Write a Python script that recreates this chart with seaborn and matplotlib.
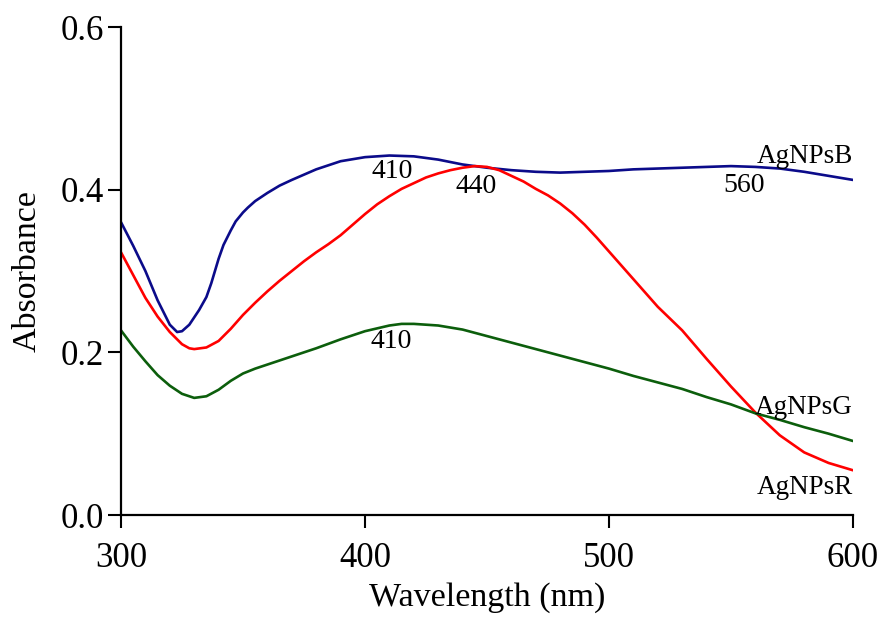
import matplotlib
matplotlib.use("Agg")
import matplotlib.pyplot as plt
import seaborn as sns
import pandas as pd

# UV-Vis absorption spectra of silver nanoparticles (AgNPs)
wl_b = [300, 305, 310, 315, 320, 323, 325, 328, 332, 335, 337, 340, 342, 345,
        347, 350, 352, 355, 360, 365, 370, 380, 390, 400, 410, 420, 430, 440,
        450, 460, 470, 480, 490, 500, 510, 520, 530, 540, 550, 560, 570, 580,
        590, 600]
abs_b = [0.360, 0.331, 0.300, 0.264, 0.234, 0.225, 0.226, 0.234, 0.252, 0.268,
         0.285, 0.315, 0.332, 0.350, 0.361, 0.372, 0.378, 0.386, 0.396, 0.405,
         0.412, 0.425, 0.435, 0.440, 0.442, 0.441, 0.437, 0.431, 0.427, 0.424,
         0.422, 0.421, 0.422, 0.423, 0.425, 0.426, 0.427, 0.428, 0.429, 0.428,
         0.426, 0.422, 0.417, 0.412]

wl_r = [300, 305, 310, 315, 320, 325, 328, 330, 335, 340, 345, 350, 355, 360,
        365, 370, 375, 380, 385, 390, 395, 400, 405, 410, 415, 420, 425, 430,
        435, 440, 445, 450, 455, 460, 465, 470, 475, 480, 485, 490, 495, 500,
        505, 510, 520, 530, 540, 550, 560, 570, 580, 590, 600]
abs_r = [0.323, 0.295, 0.267, 0.244, 0.225, 0.210, 0.205, 0.204, 0.206, 0.214,
         0.229, 0.246, 0.261, 0.275, 0.288, 0.300, 0.312, 0.323, 0.333, 0.344,
         0.357, 0.370, 0.382, 0.392, 0.401, 0.408, 0.415, 0.420, 0.424, 0.427,
         0.429, 0.428, 0.424, 0.417, 0.410, 0.401, 0.393, 0.383, 0.371, 0.357,
         0.341, 0.324, 0.307, 0.290, 0.256, 0.227, 0.192, 0.158, 0.126, 0.098,
         0.077, 0.064, 0.055]

wl_g = [300, 305, 310, 315, 320, 325, 330, 335, 340, 345, 350, 355, 360, 370,
        380, 390, 400, 410, 415, 420, 430, 440, 450, 460, 470, 480, 490, 500,
        510, 520, 530, 540, 550, 560, 570, 580, 590, 600]
abs_g = [0.227, 0.207, 0.189, 0.172, 0.159, 0.149, 0.144, 0.146, 0.154, 0.165,
         0.174, 0.180, 0.185, 0.195, 0.205, 0.216, 0.226, 0.233, 0.235, 0.235,
         0.233, 0.228, 0.220, 0.212, 0.204, 0.196, 0.188, 0.180, 0.171, 0.163,
         0.155, 0.145, 0.136, 0.125, 0.117, 0.108, 0.100, 0.091]

series_names = ["AgNPsB", "AgNPsR", "AgNPsG"]
series_colors = {"AgNPsB": "#0b0b8a", "AgNPsR": "#ff0000", "AgNPsG": "#0c5e0c"}

# peak-wavelength annotations: (text, x, y)
peak_labels = [("410", 411.0, 0.414), ("440", 445.7, 0.396),
               ("560", 555.2, 0.397), ("410", 410.8, 0.205)]
# sample names at the right end of each curve: (text, y)
name_labels = [("AgNPsB", 0.433), ("AgNPsG", 0.124), ("AgNPsR", 0.026)]

df = pd.concat([
    pd.DataFrame({"Wavelength": wl_b, "Absorbance": abs_b, "Sample": "AgNPsB"}),
    pd.DataFrame({"Wavelength": wl_r, "Absorbance": abs_r, "Sample": "AgNPsR"}),
    pd.DataFrame({"Wavelength": wl_g, "Absorbance": abs_g, "Sample": "AgNPsG"}),
], ignore_index=True)

sns.set_theme(style="ticks")
plt.rcParams["font.family"] = ["Liberation Serif", "DejaVu Serif"]

fig = plt.figure(figsize=(8.8, 6.17), dpi=100)
ax = fig.add_axes([0.1375, 0.1653, 0.9693 - 0.1375, 0.9562 - 0.1653])

sns.lineplot(data=df, x="Wavelength", y="Absorbance", hue="Sample",
             hue_order=series_names, palette=series_colors, sort=False,
             estimator=None, linewidth=1.9, legend=False, ax=ax)

ax.set_xlim(300, 600)
ax.set_ylim(0, 0.6)
ax.set_xticks([300, 400, 500, 600])
ax.set_yticks([0.0, 0.2, 0.4, 0.6])
ax.set_yticklabels(["0.0", "0.2", "0.4", "0.6"])

for side in ["top", "right"]:
    ax.spines[side].set_visible(False)
for side in ["left", "bottom"]:
    ax.spines[side].set_linewidth(1.6)
    ax.spines[side].set_color("black")

ax.tick_params(axis="both", direction="out", length=9.5, width=1.5,
               color="black", labelsize=25, labelcolor="black")
ax.tick_params(axis="x", pad=10)
ax.tick_params(axis="y", pad=3)

ax.set_xlabel("Wavelength (nm)", fontsize=24.5, color="black", labelpad=5)
ax.set_ylabel("Absorbance", fontsize=24.5, color="black", labelpad=13)

for txt, x, y in peak_labels:
    ax.text(x, y, txt, fontsize=20, ha="center", va="baseline", color="black")
for txt, y in name_labels:
    ax.text(600, y, txt, fontsize=19.5, ha="right", va="baseline", color="black")

fig.savefig("out.png", dpi=100)
